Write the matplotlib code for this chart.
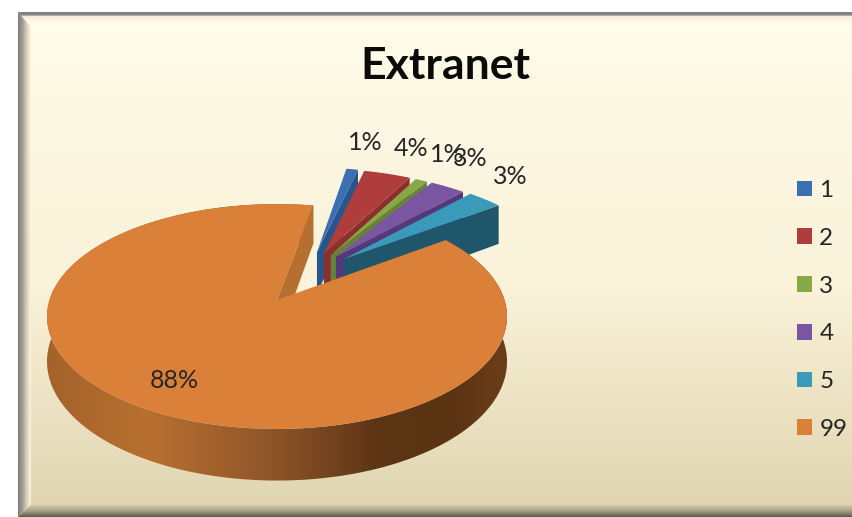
import numpy as np
import matplotlib
matplotlib.use("Agg")
import matplotlib.pyplot as plt
from matplotlib.patches import Patch, Polygon
from matplotlib.colors import LinearSegmentedColormap

# _____________________ DATA _____________________________

categories = ['1', '2', '3', '4', '5', '99']
values = [1, 4, 1, 3, 3, 88]
explode = [0.5, 0.5, 0.5, 0.5, 0.5, 0.0]
top_colors = ['#3a6fb2', '#ae3d3b', '#86a845', '#7a55a2', '#3a9ab9', '#da8038']
wall_colors = ['#28558c', '#8c2e2c', '#668236', '#54397a', '#1f566b', '#b5702f']
pct_labels = ['1%', '4%', '1%', '3%', '3%', '88%']
label_xy = [(365, 142), (411, 148), (447, 155), (470, 159), (510, 177), (174, 381)]

# ____________________ GEOMETRY __________________________

CX, CY = 277, 300        # pie centre on screen
RX, RY = 227.5, 110      # radii of the top face
PERSP = 0.147
DEPTH = 44
START = 10.5             # first slice, degrees clockwise from top
FAN = 0.45               # exploded slices fan out less than their bisectors
FAN_MID = 30


def project(u, v, z=0.0):
    w = 1 + PERSP * v
    return CX + RX * u / w, CY - RY * v / w + z * DEPTH / w


def arc_xy(a0, a1, shift, z=0.0, n=120):
    a = np.radians(np.linspace(a0, a1, n))
    x, y = project(np.sin(a) + shift[0], np.cos(a) + shift[1], z)
    return np.column_stack([x, y])


fig = plt.figure(figsize=(8.52, 5.17), dpi=100, facecolor='white')
ax = fig.add_axes([0, 0, 1, 1])
ax.set_xlim(0, 852)
ax.set_ylim(517, 0)
ax.axis('off')
plt.rcParams['font.family'] = ['Lato', 'DejaVu Sans']

# ________________ background + bevel ____________________

bg = LinearSegmentedColormap.from_list('bg', [(0, '#fffcea'), (0.55, '#faf2d9'), (1, '#dfd4ae')])
ax.imshow(np.linspace(0, 1, 256)[:, None], extent=[18, 852, 517, 12], cmap=bg,
          aspect='auto', zorder=0)

left = LinearSegmentedColormap.from_list('l', ['#7f7f7f', '#a09c90', '#d8cfb6', '#fff6e2'])
im = ax.imshow(np.linspace(0, 1, 64)[None, :], extent=[18, 31, 517, 12], cmap=left,
               aspect='auto', zorder=1)
im.set_clip_path(Polygon([(18, 12), (31, 26), (31, 504), (18, 517)], transform=ax.transData))

top = LinearSegmentedColormap.from_list(
    't', [(0, '#808080'), (0.2, '#858585'), (0.27, '#f8ecd6'), (0.8, '#fffdf2'), (1, '#fffbe8')])
im = ax.imshow(np.linspace(0, 1, 64)[:, None], extent=[18, 852, 27, 12], cmap=top,
               aspect='auto', zorder=1)
im.set_clip_path(Polygon([(18, 12), (852, 12), (852, 27), (31, 27)], transform=ax.transData))

bottom = LinearSegmentedColormap.from_list('b', ['#d8cdaa', '#a69e84', '#5c5a4c'])
im = ax.imshow(np.linspace(0, 1, 64)[:, None], extent=[18, 852, 517, 505], cmap=bottom,
               aspect='auto', zorder=1)
im.set_clip_path(Polygon([(31, 505), (852, 505), (852, 517), (18, 517)], transform=ax.transData))

# ___________________ pie slices _________________________

fracs = np.array(values) / sum(values) * 360
ends = START + np.cumsum(fracs)
starts = ends - fracs

for i in range(len(values)):
    a0, a1 = starts[i], ends[i]
    mid = (a0 + a1) / 2
    move = np.radians(FAN_MID + (mid - FAN_MID) * FAN)
    shift = (explode[i] * np.sin(move), explode[i] * np.cos(move))
    zo = 3 + i
    apex = np.array(project(shift[0], shift[1]))
    apex_low = np.array(project(shift[0], shift[1], 1))

    if i == 5:
        # outer rim with its horizontal shading
        rim_top = arc_xy(a0, a1, shift, n=300)
        rim_low = arc_xy(a0, a1, shift, z=1, n=300)
        rim_poly = Polygon(np.vstack([rim_top, rim_low[::-1]]), transform=ax.transData)
        shade = LinearSegmentedColormap.from_list(
            'rim', [(0, '#a4622a'), (0.22, '#b87030'), (0.48, '#90562a'),
                    (0.72, '#5c3514'), (0.88, '#5a3313'), (1, '#6c3e18')])
        im = ax.imshow(np.linspace(0, 1, 256)[None, :], extent=[46, 508, 500, 200], cmap=shade,
                       aspect='auto', zorder=zo)
        im.set_clip_path(rim_poly)

    # wall on the clockwise side of the slice
    p1 = arc_xy(a1, a1, shift, n=1)[0]
    p2 = arc_xy(a1, a1, shift, z=1, n=1)[0]
    ax.add_patch(Polygon([apex, p1, p2, apex_low], fc=wall_colors[i], ec='none', zorder=zo + 0.2))

    face = np.vstack([[apex], arc_xy(a0, a1, shift, n=200)])
    ax.add_patch(Polygon(face, fc=top_colors[i], ec='none', zorder=zo + 0.5))

ax.set_xlim(0, 852)
ax.set_ylim(517, 0)

# _____________________ text _____________________________

for txt, (x, y) in zip(pct_labels, label_xy):
    ax.text(x, y, txt, fontsize=18, color='#262626', ha='center', va='center', zorder=20)

ax.text(445, 66, 'Extranet', fontsize=32, fontweight='bold', color='#0a0a0a',
        ha='center', va='center', zorder=20)

handles = [Patch(fc=c, ec='none') for c in top_colors]
ax.legend(handles, categories, loc='center left', bbox_to_anchor=(797 / 852, 1 - 310 / 517),
          frameon=False, fontsize=17.5, handlelength=0.62, handleheight=0.62, handletextpad=0.3,
          labelspacing=1.1, labelcolor='#262626', borderpad=0, borderaxespad=0)

fig.savefig('out.png', dpi=100)
